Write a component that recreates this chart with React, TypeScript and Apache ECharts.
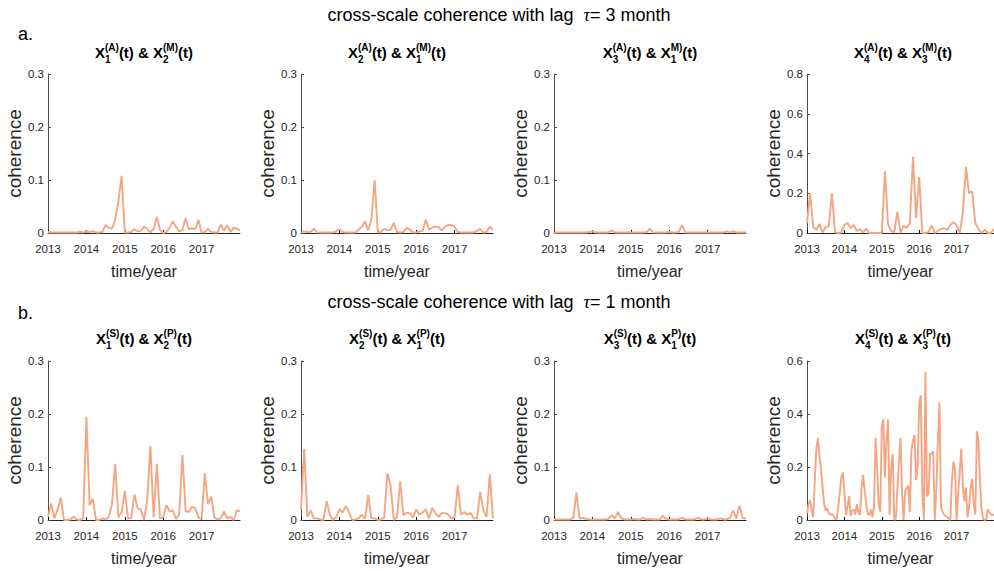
import React, { useEffect, useRef } from 'react';
import * as echarts from 'echarts';

const YEAR_TICKS = [2013, 2014, 2015, 2016, 2017];
const X_MIN = 2013;
const X_MAX = 2018;
const TIME_MONTHLY = Array.from({ length: 61 }, (_, i) => 2013 + i / 12);
const TIME_HALFMONTH = Array.from({ length: 121 }, (_, i) => 2013 + i / 24);

const ROW_LAGS = ['3', '1'];
const ROW_LETTERS = ['a.', 'b.'];

// [sub1, sup1, sub2, sup2]
const PANEL_TITLES = [
  ['1', '(A)', '2', '(M)'],
  ['2', '(A)', '1', '(M)'],
  ['3', '(A)', '1', 'M)'],
  ['4', '(A)', '3', '(M)'],
  ['1', '(S)', '2', '(P)'],
  ['2', '(S)', '1', '(P)'],
  ['3', '(S)', '1', 'P)'],
  ['4', '(S)', '3', '(P)'],
];

const Y_MAX = [0.3, 0.3, 0.3, 0.8, 0.3, 0.3, 0.3, 0.6];
const Y_STEP = [0.1, 0.1, 0.1, 0.2, 0.1, 0.1, 0.1, 0.2];

const A1 = [
  0.002, 0.001, 0.001, 0.001, 0.001, 0.001, 0.001, 0.001, 0.001, 0.001, 0.002, 0.001,
  0.003, 0.002, 0.003, 0.001, 0.001, 0.002, 0.015, 0.01, 0.008, 0.025, 0.06, 0.108,
  0.001, 0.001, 0.002, 0.007, 0.003, 0.004, 0.012, 0.008, 0.001, 0.008, 0.03, 0.006,
  0.0, 0.002, 0.01, 0.022, 0.012, 0.003, 0.006, 0.028, 0.007, 0.009, 0.007, 0.025,
  0.001, 0.002, 0.008, 0.002, 0.001, 0.001, 0.016, 0.004, 0.015, 0.002, 0.01, 0.008,
  0.005,
];
const A2 = [
  0.001, 0.003, 0.002, 0.002, 0.008, 0.001, 0.001, 0.001, 0.001, 0.001, 0.001, 0.003,
  0.007, 0.002, 0.001, 0.001, 0.001, 0.001, 0.006, 0.012, 0.022, 0.005, 0.026, 0.1,
  0.001, 0.002, 0.008, 0.005, 0.006, 0.019, 0.002, 0.001, 0.002, 0.009, 0.007, 0.001,
  0.001, 0.003, 0.004, 0.025, 0.006, 0.01, 0.012, 0.011, 0.005, 0.012, 0.015, 0.015,
  0.012, 0.002, 0.001, 0.001, 0.001, 0.001, 0.001, 0.004, 0.008, 0.001, 0.002, 0.012,
  0.006,
];
const A3 = [
  0.001, 0.001, 0.001, 0.001, 0.001, 0.001, 0.001, 0.001, 0.001, 0.001, 0.001, 0.002,
  0.003, 0.001, 0.001, 0.001, 0.001, 0.001, 0.005, 0.001, 0.001, 0.001, 0.001, 0.001,
  0.001, 0.001, 0.001, 0.001, 0.001, 0.002, 0.008, 0.001, 0.001, 0.001, 0.001, 0.001,
  0.002, 0.001, 0.001, 0.002, 0.015, 0.001, 0.001, 0.001, 0.001, 0.001, 0.001, 0.001,
  0.001, 0.001, 0.001, 0.001, 0.001, 0.001, 0.003, 0.001, 0.003, 0.001, 0.001, 0.001,
  0.001,
];
const A4 = [
  0.05, 0.2, 0.03, 0.016, 0.045, 0.003, 0.03, 0.035, 0.2, 0.003, 0.0, 0.002,
  0.04, 0.05, 0.025, 0.04, 0.01, 0.02, 0.003, 0.022, 0.0, 0.0, 0.0, 0.0,
  0.0, 0.31, 0.045, 0.008, 0.005, 0.108, 0.0, 0.037, 0.025, 0.05, 0.383, 0.075,
  0.283, 0.0, 0.0, 0.005, 0.037, 0.0, 0.01, 0.02, 0.025, 0.015, 0.04, 0.055,
  0.04, 0.0, 0.1, 0.333, 0.2, 0.21, 0.05, 0.02, 0.0, 0.017, 0.0, 0.0,
  0.02,
];
const B1 = [
  0.006, 0.031, 0.003, 0.019, 0.042, 0.0, 0.0, 0.001, 0.006, 0.001, 0.0, 0.003,
  0.195, 0.028, 0.04, 0.0, 0.0, 0.003, 0.001, 0.006, 0.03, 0.106, 0.005, 0.015,
  0.055, 0.003, 0.003, 0.048, 0.022, 0.02, 0.0, 0.037, 0.14, 0.005, 0.106, 0.003,
  0.005, 0.028, 0.016, 0.018, 0.002, 0.01, 0.123, 0.017, 0.015, 0.025, 0.022, 0.005,
  0.002, 0.089, 0.03, 0.044, 0.005, 0.001, 0.003, 0.016, 0.003, 0.006, 0.0, 0.018,
  0.017,
];
const B2 = [
  0.02, 0.134, 0.006, 0.018, 0.003, 0.003, 0.001, 0.0, 0.036, 0.01, 0.0, 0.006,
  0.02, 0.014, 0.026, 0.015, 0.0, 0.001, 0.003, 0.01, 0.002, 0.047, 0.003, 0.003,
  0.0, 0.001, 0.005, 0.088, 0.065, 0.0, 0.005, 0.073, 0.009, 0.014, 0.013, 0.005,
  0.02, 0.01, 0.014, 0.02, 0.003, 0.023, 0.013, 0.006, 0.013, 0.013, 0.01, 0.003,
  0.005, 0.066, 0.01, 0.015, 0.01, 0.013, 0.003, 0.003, 0.053, 0.018, 0.006, 0.086,
  0.003,
];
const B3 = [
  0.001, 0.001, 0.001, 0.001, 0.001, 0.001, 0.003, 0.052, 0.003, 0.004, 0.002, 0.001,
  0.001, 0.001, 0.001, 0.001, 0.001, 0.002, 0.009, 0.003, 0.015, 0.003, 0.001, 0.001,
  0.001, 0.002, 0.001, 0.001, 0.004, 0.001, 0.002, 0.001, 0.001, 0.001, 0.008, 0.002,
  0.001, 0.001, 0.001, 0.001, 0.004, 0.001, 0.001, 0.001, 0.001, 0.004, 0.001, 0.001,
  0.003, 0.001, 0.001, 0.001, 0.003, 0.001, 0.001, 0.004, 0.018, 0.003, 0.027, 0.003,
  0.003,
];
// half-monthly resolution
const B4 = [
  0.025, 0.06, 0.075, 0.035, 0.01, 0.15, 0.27, 0.31, 0.24, 0.19, 0.125, 0.06,
  0.035, 0.045, 0.025, 0.02, 0.022, 0.015, 0.006, 0.002, 0.05, 0.1, 0.16, 0.18,
  0.106, 0.02, 0.05, 0.09, 0.015, 0.035, 0.04, 0.02, 0.06, 0.03, 0.02, 0.12,
  0.17, 0.11, 0.06, 0.025, 0.018, 0.04, 0.01, 0.05, 0.31, 0.2, 0.06, 0.03,
  0.35, 0.38, 0.16, 0.3, 0.38, 0.02, 0.2, 0.25, 0.0, 0.005, 0.12, 0.22,
  0.31, 0.1, 0.0, 0.11, 0.12, 0.13, 0.03, 0.26, 0.3, 0.32, 0.15, 0.2,
  0.44, 0.47, 0.1, 0.0, 0.56, 0.09, 0.1, 0.25, 0.25, 0.26, 0.0, 0.12,
  0.3, 0.444, 0.05, 0.03, 0.02, 0.015, 0.012, 0.005, 0.0, 0.15, 0.22, 0.19,
  0.0, 0.1, 0.18, 0.27, 0.13, 0.07, 0.122, 0.01, 0.05, 0.12, 0.155, 0.06,
  0.02, 0.335, 0.3, 0.15, 0.04, 0.005, 0.0, 0.002, 0.04, 0.03, 0.02, 0.02,
  0.02,
];

const SERIES_VALUES = [A1, A2, A3, A4, B1, B2, B3, B4];
const SERIES_TIMES = [
  TIME_MONTHLY, TIME_MONTHLY, TIME_MONTHLY, TIME_MONTHLY,
  TIME_MONTHLY, TIME_MONTHLY, TIME_MONTHLY, TIME_HALFMONTH,
];

const LEFTS = [48, 301, 554, 807];
const TOPS = [74, 361];
const PW = 192;
const PH = 159;

const SANS = '"Liberation Sans", Arial, sans-serif';
const NARROW = '"Liberation Sans Narrow", "Liberation Sans", Arial, sans-serif';
const LINE_COLOR = '#F4A582';
const AX = '#262626';

export default function App() {
  const ref = useRef<HTMLDivElement>(null);

  useEffect(() => {
    const chart = echarts.init(ref.current!, null, { renderer: 'svg' });
    const ctx = document.createElement('canvas').getContext('2d')!;
    const tw = (font: string, s: string) => {
      ctx.font = font;
      return ctx.measureText(s).width;
    };

    const graphics: any[] = [];

    // row titles and letters
    const titleMid = [15, 302];
    const letterMid = [34, 313];
    for (let r = 0; r < 2; r++) {
      graphics.push({
        type: 'text',
        x: 499,
        y: titleMid[r],
        style: {
          text: `{n|cross-scale coherence with lag  }{t|τ}{n|= ${ROW_LAGS[r]} month}`,
          align: 'center',
          verticalAlign: 'middle',
          rich: {
            n: { fontFamily: NARROW, fontSize: 18, fill: '#000' },
            t: { fontFamily: '"Liberation Serif", serif', fontStyle: 'italic', fontSize: 18, fill: '#000' },
          },
        },
      });
      graphics.push({
        type: 'text',
        x: 18,
        y: letterMid[r],
        style: { text: ROW_LETTERS[r], font: `18px ${SANS}`, fill: '#000', align: 'left', verticalAlign: 'middle' },
      });
    }

    // panel titles
    const big = `bold 15px ${NARROW}`;
    const small = `bold 10px ${NARROW}`;
    const panelTitleBase = [58, 344];
    PANEL_TITLES.forEach((t, k) => {
      const r = Math.floor(k / 4);
      const c = k % 4;
      const cx = LEFTS[c] + PW / 2;
      const base = panelTitleBase[r];
      const seq: any[] = [
        { b: 'X' },
        { sub: t[0], sup: t[1] },
        { b: '(t) & X' },
        { sub: t[2], sup: t[3] },
        { b: '(t)' },
      ];
      const widths = seq.map((p) => (p.b !== undefined ? tw(big, p.b) : Math.max(tw(small, p.sub), tw(small, p.sup))));
      const total = widths.reduce((a, b) => a + b, 0);
      let x = cx - total / 2;
      seq.forEach((p, i) => {
        if (p.b !== undefined) {
          graphics.push({
            type: 'text', x, y: base - 0.35 * 15,
            style: { text: p.b, font: big, fill: '#000', align: 'left', verticalAlign: 'middle' },
          });
        } else {
          graphics.push({
            type: 'text', x, y: base + 5 - 0.35 * 10,
            style: { text: p.sub, font: small, fill: '#000', align: 'left', verticalAlign: 'middle' },
          });
          graphics.push({
            type: 'text', x, y: base - 7 - 0.35 * 10,
            style: { text: p.sup, font: small, fill: '#000', align: 'left', verticalAlign: 'middle' },
          });
        }
        x += widths[i];
      });
    });

    const grids: any[] = [];
    const xAxes: any[] = [];
    const yAxes: any[] = [];
    const series: any[] = [];
    for (let k = 0; k < 8; k++) {
      const r = Math.floor(k / 4);
      const c = k % 4;
      grids.push({ left: LEFTS[c], top: TOPS[r], width: PW, height: PH, containLabel: false });
      xAxes.push({
        gridIndex: k,
        type: 'value',
        min: X_MIN,
        max: X_MAX,
        interval: 1,
        splitLine: { show: false },
        axisLine: { show: true, onZero: false, lineStyle: { color: AX, width: 1 } },
        axisTick: { show: true, inside: true, length: 3, customValues: YEAR_TICKS, lineStyle: { color: '#000' } },
        axisLabel: {
          customValues: YEAR_TICKS,
          color: AX,
          fontSize: 11.5,
          fontFamily: SANS,
          margin: 10,
          formatter: (v: number) => String(Math.round(v)),
        },
        name: 'time/year',
        nameLocation: 'middle',
        nameGap: 30,
        nameTextStyle: { fontSize: 16, color: AX, fontFamily: SANS },
      });
      yAxes.push({
        gridIndex: k,
        type: 'value',
        min: 0,
        max: Y_MAX[k],
        interval: Y_STEP[k],
        splitLine: { show: false },
        axisLine: { show: true, lineStyle: { color: '#4d4d4d', width: 1 } },
        axisTick: { show: true, inside: true, length: 3, lineStyle: { color: '#4d4d4d' } },
        axisLabel: { color: AX, fontSize: 11.5, fontFamily: SANS, margin: 4 },
        name: 'coherence',
        nameLocation: 'middle',
        nameGap: 21,
        nameTextStyle: { fontSize: 19, color: AX, fontFamily: SANS },
      });
      const times = SERIES_TIMES[k];
      series.push({
        type: 'line',
        xAxisIndex: k,
        yAxisIndex: k,
        data: SERIES_VALUES[k].map((v, i) => [times[i], v]),
        symbol: 'none',
        showSymbol: false,
        clip: true,
        z: 3,
        lineStyle: { color: LINE_COLOR, width: 1.9 },
      });
    }

    chart.setOption({
      animation: false,
      backgroundColor: '#ffffff',
      grid: grids,
      xAxis: xAxes,
      yAxis: yAxes,
      series,
      graphic: graphics,
    });

    return () => chart.dispose();
  }, []);

  return <div ref={ref} style={{ position: 'absolute', left: 0, top: 0, width: 994, height: 571 }} />;
}
